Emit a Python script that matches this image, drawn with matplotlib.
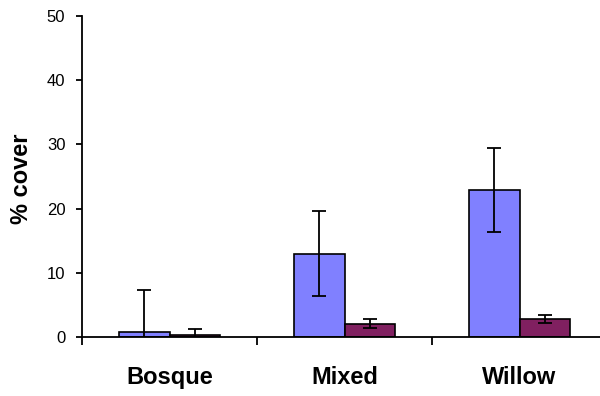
import numpy as np
import matplotlib.pyplot as plt

plt.rcParams['font.family'] = ['Liberation Sans', 'DejaVu Sans']

habitats = ['Bosque', 'Mixed', 'Willow']
series_a = [0.8, 13.0, 22.9]
series_a_err = [6.5, 6.6, 6.5]
series_b = [0.35, 2.1, 2.75]
series_b_err = [0.9, 0.65, 0.6]

fig = plt.figure(figsize=(6, 3.96), dpi=100)
ax = fig.add_axes([82 / 600, 59 / 396, 518 / 600, 321 / 396])

x = np.arange(len(habitats))
w = 0.29
ax.bar(x - w, series_a, width=w, align='edge', color='#8080FF',
       edgecolor='black', linewidth=1.2, zorder=2)
ax.bar(x, series_b, width=w, align='edge', color='#802060',
       edgecolor='black', linewidth=1.2, zorder=2)
ax.errorbar(x - w / 2, series_a, yerr=series_a_err, fmt='none', ecolor='black',
            elinewidth=1.3, capsize=5, capthick=1.3, zorder=3)
ax.errorbar(x + w / 2, series_b, yerr=series_b_err, fmt='none', ecolor='black',
            elinewidth=1.3, capsize=5, capthick=1.3, zorder=3)

ax.set_xlim(-0.5, 2.46)
ax.set_ylim(0, 50)
ax.set_yticks(range(0, 51, 10))
ax.tick_params(axis='y', direction='out', length=4, width=1.3, labelsize=12, pad=8)

# ticks mark the boundaries between groups
ax.set_xticks([-0.5, 0.5, 1.5])
ax.set_xticklabels([])
ax.tick_params(axis='x', which='major', direction='out', length=6, width=1.3)

# group names centred under each pair of bars
for xi, name in zip(x, habitats):
    ax.text(xi, -0.1464, name, transform=ax.get_xaxis_transform(),
            ha='center', va='baseline', fontsize=17, fontweight='bold')

for side in ['top', 'right']:
    ax.spines[side].set_visible(False)
for side in ['left', 'bottom']:
    ax.spines[side].set_linewidth(1.3)

fig.text(21 / 600, 1 - 179 / 396, '% cover', rotation=90, ha='center', va='center',
         fontsize=17, fontweight='bold')

plt.savefig('out.png', dpi=100)
